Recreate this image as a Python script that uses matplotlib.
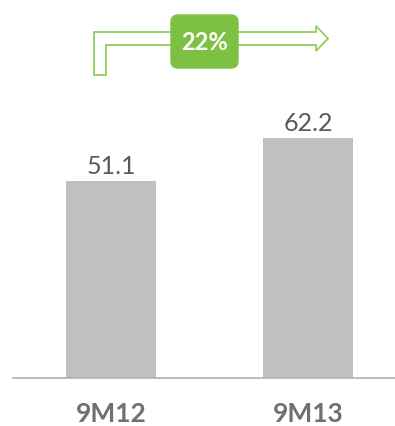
import matplotlib.pyplot as plt
import matplotlib.transforms as mtransforms
from matplotlib.patches import Polygon, FancyBboxPatch

categories = ['9M12', '9M13']
values = [51.1, 62.2]
growth_label = '22%'

W, H = 395, 427
fig = plt.figure(figsize=(W / 100, H / 100), dpi=100)
plt.rcParams['font.family'] = ['Lato', 'DejaVu Sans']

# bar axes
ax = fig.add_axes([13 / W, (H - 379) / H, (W - 13) / W, 279 / H])
x = list(range(len(categories)))
ax.bar(x, values, width=0.457, color='#c0c0c0')
ax.set_xlim(-0.497, 1.44)
ax.set_ylim(0, 72.3)
for xi, v in zip(x, values):
    ax.text(xi, v + 1.1, f'{v:.1f}', ha='center', va='bottom',
            fontsize=18, color='#595959')

# category labels below the axis line
trans = mtransforms.blended_transform_factory(ax.transData, fig.transFigure)
for xi, c in zip(x, categories):
    ax.text(xi, (H - 414) / H, c, transform=trans, ha='center', va='center',
            fontsize=19, fontweight='bold', color='#707070')
ax.set_xticks([])
ax.set_yticks([])
for s in ['top', 'right', 'left']:
    ax.spines[s].set_visible(False)
ax.spines['bottom'].set_color('#b0b0b0')
ax.spines['bottom'].set_linewidth(1.2)

# overlay in pixel coordinates for the growth arrow
ov = fig.add_axes([0, 0, 1, 1])
ov.set_xlim(0, W)
ov.set_ylim(H, 0)
ov.axis('off')
pts = [(94, 76), (94, 33), (316, 33), (316, 27), (328, 39.5),
       (316, 52), (316, 46), (106, 46), (106, 76)]
ov.add_patch(Polygon(pts, closed=True, fill=False, edgecolor='#8fd05a', linewidth=1.3))
ov.add_patch(FancyBboxPatch((174, 19), 61, 47, boxstyle='round,pad=3,rounding_size=7',
                            facecolor='#7dc142', edgecolor='#7dc142'))
ov.text(204.5, 43, growth_label, ha='center', va='center', fontsize=17,
        fontweight='bold', color='white')

fig.savefig('out.png', dpi=100)
